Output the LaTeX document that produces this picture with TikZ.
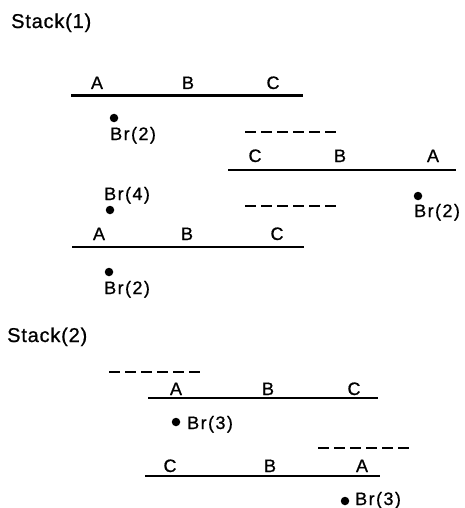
\documentclass[tikz,border=0pt]{standalone}
\usepackage{fontspec}
\setmainfont{Liberation Sans}[LetterSpace=8,FakeBold=0.8]
\newfontfamily\titlefont{Liberation Sans}[LetterSpace=4,FakeBold=0.8]
\begin{document}
\begin{tikzpicture}[x=1pt,y=-1pt,
  bar/.style={line width=2.3pt},
  dashbar/.style={line width=1.2pt,dash pattern=on 11pt off 5pt},
  lbl/.style={anchor=base,inner sep=0pt,font=\fontsize{18}{18}\selectfont},
  txt/.style={anchor=base west,inner sep=0pt,font=\fontsize{18}{18}\selectfont},
  title/.style={anchor=base west,inner sep=0pt,font=\titlefont\fontsize{20}{20}\selectfont},
  dot/.style={circle,fill=black,inner sep=0pt,minimum size=8.5pt}]
\useasboundingbox (0,0) rectangle (465,508);
% titles
\node[title] (s1) at (11,28) {Stack(1)};
\node[title] (s2) at (7,342) {Stack(2)};
% line coordinates
\coordinate (l1a) at (71,95.5);  \coordinate (l1b) at (303,95.5);
\coordinate (l2a) at (228,170);  \coordinate (l2b) at (456,170);
\coordinate (l3a) at (72,247);   \coordinate (l3b) at (304,247);
\coordinate (l4a) at (148,398);  \coordinate (l4b) at (378,398);
\coordinate (l5a) at (145,476);  \coordinate (l5b) at (380,476);
\draw[bar] (l1a) -- (l1b);
\draw[bar] (l2a) -- (l2b);
\draw[bar] (l3a) -- (l3b);
\draw[bar] (l4a) -- (l4b);
\draw[bar] (l5a) -- (l5b);
% dashed
\coordinate (d1a) at (245,132); \coordinate (d1b) at (336,132);
\coordinate (d2a) at (245,206); \coordinate (d2b) at (336,206);
\coordinate (d3a) at (109,372); \coordinate (d3b) at (200,372);
\coordinate (d4a) at (318,448); \coordinate (d4b) at (409,448);
\draw[dashbar] (d1a) -- (d1b);
\draw[dashbar] (d2a) -- (d2b);
\draw[dashbar] (d3a) -- (d3b);
\draw[dashbar] (d4a) -- (d4b);
% labels line 1
\node[lbl] (a1) at (97,89) {A};
\node[lbl] (b1) at (188,89) {B};
\node[lbl] (c1) at (273,89) {C};
% line 2
\node[lbl] (c2) at (255,162) {C};
\node[lbl] (b2) at (340,162) {B};
\node[lbl] (a2) at (433,162) {A};
% line 3
\node[lbl] (a3) at (99,240) {A};
\node[lbl] (b3) at (187,240) {B};
\node[lbl] (c3) at (277,240) {C};
% line 4
\node[lbl] (a4) at (176,395) {A};
\node[lbl] (b4) at (268,395) {B};
\node[lbl] (c4) at (354,395) {C};
% line 5
\node[lbl] (c5) at (170,472) {C};
\node[lbl] (b5) at (270,472) {B};
\node[lbl] (a5) at (362,472) {A};
% dots
\node[dot] (p1) at (114,118) {};
\node[dot] (p2) at (110,210) {};
\node[dot] (p3) at (418,196) {};
\node[dot] (p4) at (109,272) {};
\node[dot] (p5) at (176,422) {};
\node[dot] (p6) at (345,501) {};
% Br labels
\node[txt] (br1) at (110,140) {Br(2)};
\node[txt] (br2) at (104,200) {Br(4)};
\node[txt] (br3) at (414,217) {Br(2)};
\node[txt] (br4) at (104,294) {Br(2)};
\node[txt] (br5) at (187,429) {Br(3)};
\node[txt] (br6) at (355,505) {Br(3)};
\end{tikzpicture}
\end{document}
